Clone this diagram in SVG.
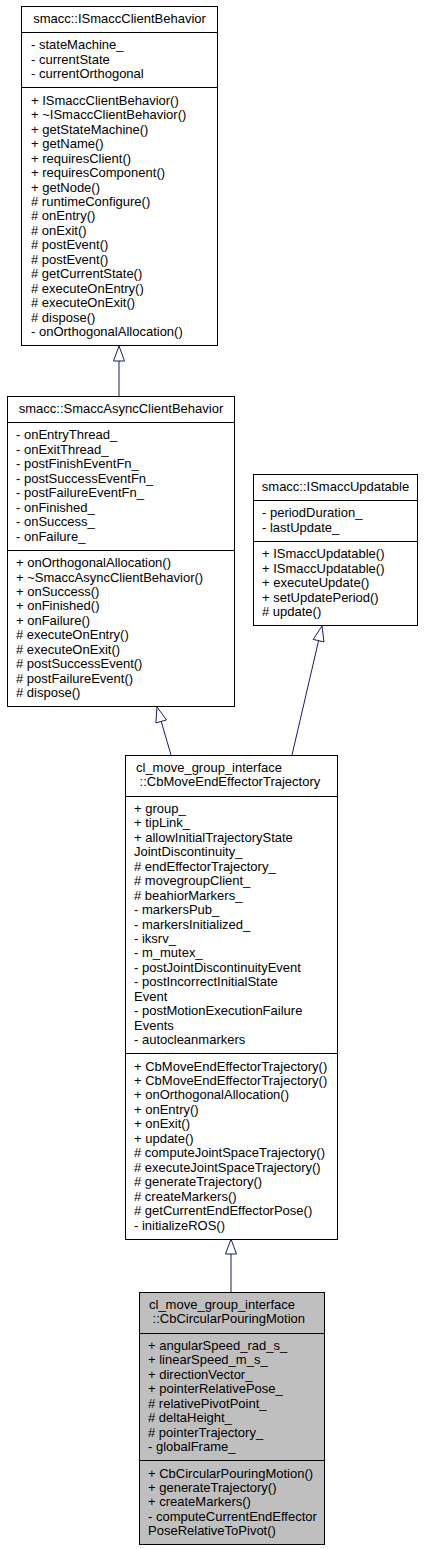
<svg xmlns="http://www.w3.org/2000/svg" width="434" height="1549" viewBox="0 0 434 1549">
<style>
text{font-family:"Liberation Sans",Arial,Helvetica,sans-serif;font-size:13px;fill:#000}
.box{fill:#fff;stroke:#000;stroke-width:1}
.cur{fill:#bfbfbf;stroke:#000;stroke-width:1}
.sep{stroke:#000;stroke-width:1}
.edge{stroke:#191970;stroke-width:1;fill:none}
.head{stroke:#191970;stroke-width:1;fill:#fff}
.c{text-anchor:middle}
</style>
<rect width="434" height="1549" fill="#fff"/>
<g id="connectors">
<line class="edge" x1="119" y1="361" x2="119" y2="396"/>
<polygon class="head" points="119,346 113.5,361 124.5,361"/>
<line class="edge" x1="161.2" y1="721.4" x2="171" y2="755"/>
<polygon class="head" points="157,707 155.9,722.9 166.5,719.9"/>
<line class="edge" x1="318.6" y1="640.6" x2="292" y2="755"/>
<polygon class="head" points="322,626 313.2,639.4 324,641.9"/>
<line class="edge" x1="231" y1="1254" x2="231" y2="1292"/>
<polygon class="head" points="231,1239 225.5,1254 236.5,1254"/>
</g>
<g id="ISmaccClientBehavior">
<rect class="box" x="21.5" y="6.5" width="196" height="339"/>
<line class="sep" x1="21.5" y1="32.5" x2="217.5" y2="32.5"/>
<line class="sep" x1="21.5" y1="87.5" x2="217.5" y2="87.5"/>
<text class="c" x="119.5" y="23">smacc::ISmaccClientBehavior</text>
<text x="31" y="49.45"><tspan x="31">- stateMachine_</tspan><tspan x="31" dy="14.45">- currentState</tspan><tspan x="31" dy="14.45">- currentOrthogonal</tspan></text>
<text x="31" y="104.8"><tspan x="31">+ ISmaccClientBehavior()</tspan><tspan x="31" dy="14.45">+ ~ISmaccClientBehavior()</tspan><tspan x="31" dy="14.45">+ getStateMachine()</tspan><tspan x="31" dy="14.45">+ getName()</tspan><tspan x="31" dy="14.45">+ requiresClient()</tspan><tspan x="31" dy="14.45">+ requiresComponent()</tspan><tspan x="31" dy="14.45">+ getNode()</tspan><tspan x="31" dy="14.45"># runtimeConfigure()</tspan><tspan x="31" dy="14.45"># onEntry()</tspan><tspan x="31" dy="14.45"># onExit()</tspan><tspan x="31" dy="14.45"># postEvent()</tspan><tspan x="31" dy="14.45"># postEvent()</tspan><tspan x="31" dy="14.45"># getCurrentState()</tspan><tspan x="31" dy="14.45"># executeOnEntry()</tspan><tspan x="31" dy="14.45"># executeOnExit()</tspan><tspan x="31" dy="14.45"># dispose()</tspan><tspan x="31" dy="14.45">- onOrthogonalAllocation()</tspan></text>
</g>
<g id="SmaccAsyncClientBehavior">
<rect class="box" x="7.5" y="396.5" width="227" height="310"/>
<line class="sep" x1="7.5" y1="422.5" x2="234.5" y2="422.5"/>
<line class="sep" x1="7.5" y1="550.5" x2="234.5" y2="550.5"/>
<text class="c" x="121" y="413">smacc::SmaccAsyncClientBehavior</text>
<text x="16" y="439.45"><tspan x="16">- onEntryThread_</tspan><tspan x="16" dy="14.45">- onExitThread_</tspan><tspan x="16" dy="14.45">- postFinishEventFn_</tspan><tspan x="16" dy="14.45">- postSuccessEventFn_</tspan><tspan x="16" dy="14.45">- postFailureEventFn_</tspan><tspan x="16" dy="14.45">- onFinished_</tspan><tspan x="16" dy="14.45">- onSuccess_</tspan><tspan x="16" dy="14.45">- onFailure_</tspan></text>
<text x="16" y="567.05"><tspan x="16">+ onOrthogonalAllocation()</tspan><tspan x="16" dy="14.45">+ ~SmaccAsyncClientBehavior()</tspan><tspan x="16" dy="14.45">+ onSuccess()</tspan><tspan x="16" dy="14.45">+ onFinished()</tspan><tspan x="16" dy="14.45">+ onFailure()</tspan><tspan x="16" dy="14.45"># executeOnEntry()</tspan><tspan x="16" dy="14.45"># executeOnExit()</tspan><tspan x="16" dy="14.45"># postSuccessEvent()</tspan><tspan x="16" dy="14.45"># postFailureEvent()</tspan><tspan x="16" dy="14.45"># dispose()</tspan></text>
</g>
<g id="ISmaccUpdatable">
<rect class="box" x="253.5" y="474.5" width="164" height="151"/>
<line class="sep" x1="253.5" y1="500.5" x2="417.5" y2="500.5"/>
<line class="sep" x1="253.5" y1="541.5" x2="417.5" y2="541.5"/>
<text class="c" x="335.5" y="491">smacc::ISmaccUpdatable</text>
<text x="262" y="517.45"><tspan x="262">- periodDuration_</tspan><tspan x="262" dy="14.45">- lastUpdate_</tspan></text>
<text x="262" y="558.35"><tspan x="262">+ ISmaccUpdatable()</tspan><tspan x="262" dy="14.45">+ ISmaccUpdatable()</tspan><tspan x="262" dy="14.45">+ executeUpdate()</tspan><tspan x="262" dy="14.45">+ setUpdatePeriod()</tspan><tspan x="262" dy="14.45"># update()</tspan></text>
</g>
<g id="CbMoveEndEffectorTrajectory">
<rect class="box" x="125.5" y="755.5" width="212" height="484"/>
<line class="sep" x1="125.5" y1="796.5" x2="337.5" y2="796.5"/>
<line class="sep" x1="125.5" y1="1053.5" x2="337.5" y2="1053.5"/>
<text x="136" y="772"><tspan x="136">cl_move_group_interface</tspan><tspan x="136" dy="14.45"> ::CbMoveEndEffectorTrajectory</tspan></text>
<text x="134" y="812.9"><tspan x="134">+ group_</tspan><tspan x="134" dy="14.45">+ tipLink_</tspan><tspan x="134" dy="14.45">+ allowInitialTrajectoryState</tspan><tspan x="134" dy="14.45">JointDiscontinuity_</tspan><tspan x="134" dy="14.45"># endEffectorTrajectory_</tspan><tspan x="134" dy="14.45"># movegroupClient_</tspan><tspan x="134" dy="14.45"># beahiorMarkers_</tspan><tspan x="134" dy="14.45">- markersPub_</tspan><tspan x="134" dy="14.45">- markersInitialized_</tspan><tspan x="134" dy="14.45">- iksrv_</tspan><tspan x="134" dy="14.45">- m_mutex_</tspan><tspan x="134" dy="14.45">- postJointDiscontinuityEvent</tspan><tspan x="134" dy="14.45">- postIncorrectInitialState</tspan><tspan x="134" dy="14.45">Event</tspan><tspan x="134" dy="14.45">- postMotionExecutionFailure</tspan><tspan x="134" dy="14.45">Events</tspan><tspan x="134" dy="14.45">- autocleanmarkers</tspan></text>
<text x="134" y="1070.55"><tspan x="134">+ CbMoveEndEffectorTrajectory()</tspan><tspan x="134" dy="14.45">+ CbMoveEndEffectorTrajectory()</tspan><tspan x="134" dy="14.45">+ onOrthogonalAllocation()</tspan><tspan x="134" dy="14.45">+ onEntry()</tspan><tspan x="134" dy="14.45">+ onExit()</tspan><tspan x="134" dy="14.45">+ update()</tspan><tspan x="134" dy="14.45"># computeJointSpaceTrajectory()</tspan><tspan x="134" dy="14.45"># executeJointSpaceTrajectory()</tspan><tspan x="134" dy="14.45"># generateTrajectory()</tspan><tspan x="134" dy="14.45"># createMarkers()</tspan><tspan x="134" dy="14.45"># getCurrentEndEffectorPose()</tspan><tspan x="134" dy="14.45">- initializeROS()</tspan></text>
</g>
<g id="CbCircularPouringMotion">
<rect class="cur" x="139.5" y="1292.5" width="185" height="252"/>
<line class="sep" x1="139.5" y1="1333.5" x2="324.5" y2="1333.5"/>
<line class="sep" x1="139.5" y1="1460.5" x2="324.5" y2="1460.5"/>
<text x="149" y="1309"><tspan x="149">cl_move_group_interface</tspan><tspan x="149" dy="14.45"> ::CbCircularPouringMotion</tspan></text>
<text x="148" y="1349.9"><tspan x="148">+ angularSpeed_rad_s_</tspan><tspan x="148" dy="14.45">+ linearSpeed_m_s_</tspan><tspan x="148" dy="14.45">+ directionVector_</tspan><tspan x="148" dy="14.45">+ pointerRelativePose_</tspan><tspan x="148" dy="14.45"># relativePivotPoint_</tspan><tspan x="148" dy="14.45"># deltaHeight_</tspan><tspan x="148" dy="14.45"># pointerTrajectory_</tspan><tspan x="148" dy="14.45">- globalFrame_</tspan></text>
<text x="148" y="1477.5"><tspan x="148">+ CbCircularPouringMotion()</tspan><tspan x="148" dy="14.45">+ generateTrajectory()</tspan><tspan x="148" dy="14.45">+ createMarkers()</tspan><tspan x="148" dy="14.45">- computeCurrentEndEffector</tspan><tspan x="148" dy="14.45">PoseRelativeToPivot()</tspan></text>
</g>
</svg>
